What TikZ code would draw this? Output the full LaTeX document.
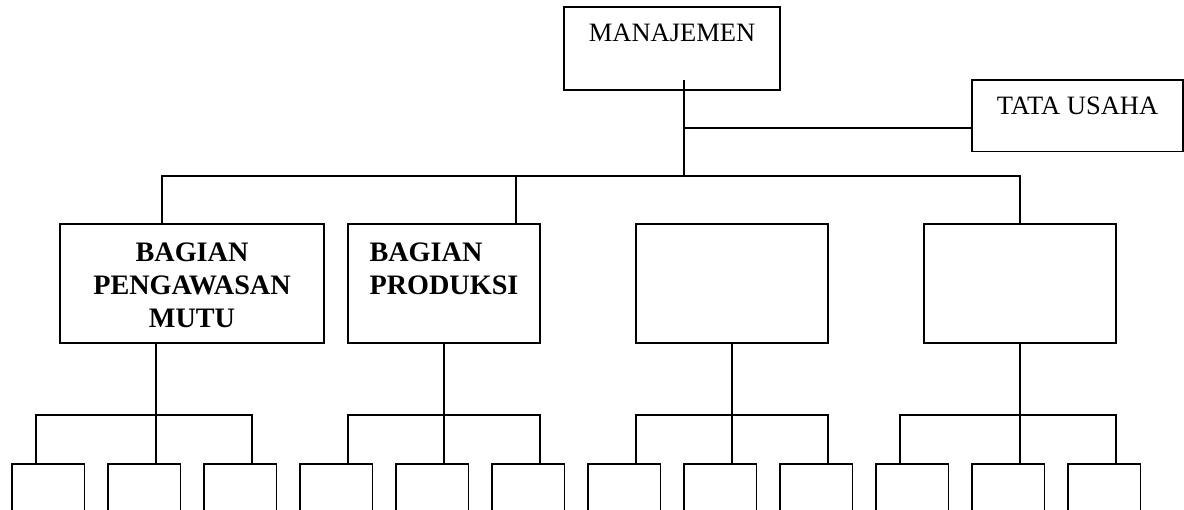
\documentclass[tikz,border=0pt]{standalone}
\usepackage{fontspec}
\setmainfont{Liberation Serif}
\tikzset{
    unit/.style={draw, line width=1.8pt, inner sep=0pt},
    caption/.style={anchor=north, inner sep=0pt, yshift=-18pt,
        font=\fontsize{26.5}{33}\selectfont},
    bcaption/.style={caption, yshift=-1.5pt, font=\bfseries\fontsize{28.2}{33}\selectfont},
    link/.style={line width=1.6pt},
}
\begin{document}
\begin{tikzpicture}[x=1pt, y=-1pt]
    \clip (0,0) rectangle (1184,510);

    \node[unit, minimum width=216pt, minimum height=83pt,
        label={[caption]north:MANAJEMEN}] (mgmt) at (672,48.5) {};
    \node[unit, minimum width=211pt, minimum height=71.5pt,
        label={[caption]north:TATA USAHA}] (tu) at (1077.5,115.75) {};

    \node[unit, minimum width=264pt, minimum height=119pt,
        label={[bcaption, align=center]north:BAGIAN\\PENGAWASAN\\MUTU}] (b1) at (192,283.5) {};
    \node[unit, minimum width=192pt, minimum height=119pt,
        label={[bcaption, align=left]north:BAGIAN\\PRODUKSI}] (b2) at (444,283.5) {};
    \node[unit, minimum width=192pt, minimum height=119pt] (b3) at (732,283.5) {};
    \node[unit, minimum width=192pt, minimum height=119pt] (b4) at (1020,283.5) {};

    \foreach \i in {1,...,12}
        \node[unit, minimum width=72.5pt, minimum height=80pt] (s\i)
            at ({48.25+96*(\i-1)},504) {};

    \coordinate (drop) at ([xshift=12pt, yshift=11pt]mgmt.south);
    \coordinate (tujoin) at (684,128);
    \coordinate (bus) at (684,176);
    \draw[link] (drop) -- (bus);
    \draw[link] (tujoin) -- (tujoin -| tu.west);

    \draw[link] ([xshift=-30pt]b1.north) |- (bus) -| (b4.north);
    \draw[link] ([xshift=72pt]b2.north) -- ([xshift=72pt]b2.north |- bus);

    \foreach \p/\a/\b/\c/\dx in {b1/s1/s2/s3/-12pt, b2/s4/s5/s6/12pt,
                                b3/s7/s8/s9/12pt, b4/s10/s11/s12/-12pt} {
        \draw[link] ([xshift=\dx]\a.north) -- ++(0,-48) -| ([xshift=12pt]\c.north);
        \draw[link] ([xshift=12pt]\b.north) -- ([xshift=12pt]\b.north |- \p.south);
    }
\end{tikzpicture}
\end{document}
